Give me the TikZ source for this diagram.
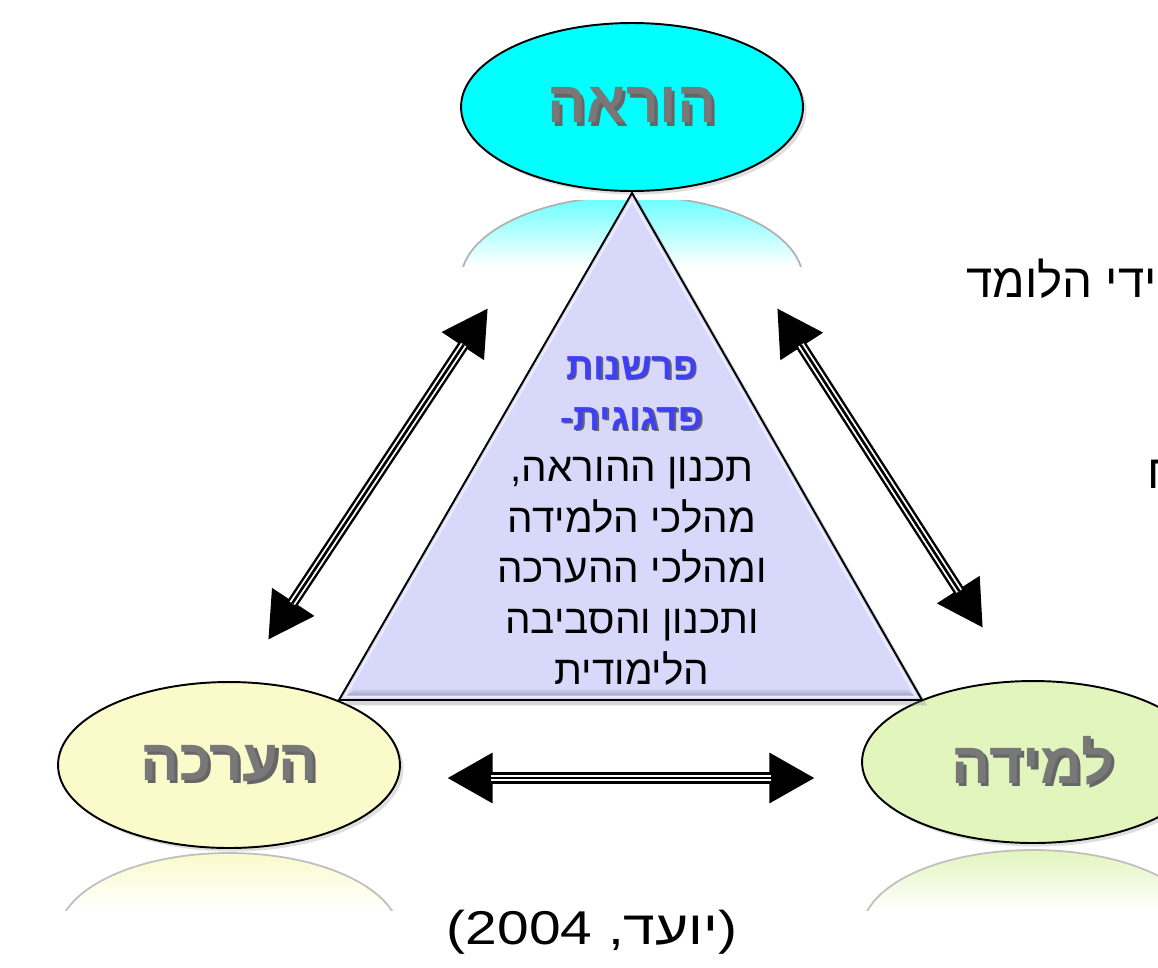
\documentclass[tikz,border=0pt]{standalone}
\usepackage{fontspec}
\setmainfont{Liberation Sans}
\newfontfamily\hebfont[Script=Hebrew]{Liberation Sans}
\newfontfamily\citefont[FakeStretch=1.2]{Liberation Sans}
\newfontfamily\citeheb[Script=Hebrew, FakeStretch=1.2]{Liberation Sans}
\TeXXeTstate=1
\usepackage{xcolor}
\usepackage{tikz}
\usetikzlibrary{positioning,arrows.meta,shapes.geometric,calc,shadows}
\definecolor{hrCyan}{HTML}{00FFFF}
\definecolor{hrCyanD}{HTML}{00B4C0}
\definecolor{hrYel}{HTML}{FAFACB}
\definecolor{hrYelD}{HTML}{D2D29E}
\definecolor{hrGrn}{HTML}{E2F5BC}
\definecolor{hrGrnD}{HTML}{B2CC86}
\definecolor{hrLav}{HTML}{D8D8FA}
\definecolor{hrBev}{HTML}{9A9AC8}
\definecolor{hrBlue}{HTML}{3F3FF5}
\definecolor{hrGray}{HTML}{787878}
\pgfdeclareradialshading{glowcyan}{\pgfpoint{0bp}{0bp}}{color(0bp)=(hrCyan); color(38bp)=(hrCyan); color(50bp)=(hrCyanD)}
\pgfdeclareradialshading{glowyel}{\pgfpoint{0bp}{0bp}}{color(0bp)=(hrYel); color(36bp)=(hrYel); color(50bp)=(hrYelD)}
\pgfdeclareradialshading{glowgrn}{\pgfpoint{0bp}{0bp}}{color(0bp)=(hrGrn); color(36bp)=(hrGrn); color(50bp)=(hrGrnD)}
\newcommand\heb[1]{\beginR #1\endR}
\newcommand\shtext[3]{\rlap{\kern#3\raisebox{-#3}{\color{black!60}#2}}{\color{#1}#2}}
\newcommand\biarrow[2]{%
  \draw[bidir] (#1) -- (#2);
  \draw[bidirgap] (#1) -- (#2);
  \draw[bidircore] (#1) -- (#2);}

\begin{document}
\begin{tikzpicture}[x=0.02cm, y=-0.02cm,
  every node/.style={font=\hebfont},
  vertex/.style={ellipse, draw=black, line width=1.1pt, shade, inner sep=0pt,
                 minimum width=6.84cm, minimum height=3.32cm,
                 drop shadow={shadow xshift=2pt, shadow yshift=-2pt, opacity=.25},
                 font=\hebfont\bfseries\fontsize{33}{36}\selectfont},
  core/.style={align=center, font=\hebfont\fontsize{23}{29}\selectfont},
  side/.style={anchor=base west, font=\hebfont\fontsize{27}{30}\selectfont},
  bidir/.style={line width=6.4pt, {Triangle[length=26pt,width=27pt]}-{Triangle[length=26pt,width=27pt]}},
  bidirgap/.style={white, line width=3.6pt, shorten <=25pt, shorten >=25pt},
  bidircore/.style={black, line width=1.5pt, shorten <=25pt, shorten >=25pt}
]
  \useasboundingbox (0,0) rectangle (1158,967);
  \clip (0,0) rectangle (1158,967);
  \fill[white] (0,0) rectangle (1158,967);

  % reflections
  \begin{scope}
    \clip (455,200) rectangle (810,266);
    \begin{scope}
      \clip (632,280) ellipse [x radius=171, y radius=84];
      \shade[top color=hrCyan!60, bottom color=white] (455,196) rectangle (810,266);
    \end{scope}
    \draw[black!30, line width=1pt] (632,280) ellipse [x radius=171, y radius=84];
  \end{scope}
  \begin{scope}
    \clip (50,845) rectangle (410,910);
    \begin{scope}
      \clip (229,936) ellipse [x radius=171, y radius=83];
      \shade[top color=hrYel, bottom color=white] (50,852) rectangle (410,910);
    \end{scope}
    \draw[black!25, line width=1pt] (229,936) ellipse [x radius=171, y radius=83];
  \end{scope}
  \begin{scope}
    \clip (855,845) rectangle (1158,910);
    \begin{scope}
      \clip (1033,931) ellipse [x radius=171, y radius=81];
      \shade[top color=hrGrn, bottom color=white] (855,849) rectangle (1210,910);
    \end{scope}
    \draw[black!25, line width=1pt] (1033,931) ellipse [x radius=171, y radius=81];
  \end{scope}

  % the three corners
  \node[vertex, shading=glowyel] (assess) at (229,765) {\shtext{hrGray}{\heb{הערכה}}{1.8pt}};
  \node[vertex, shading=glowgrn, minimum height=3.24cm] (learn) at (1033,762) {\shtext{hrGray}{\heb{למידה}}{1.8pt}};
  \node[vertex, shading=glowcyan, minimum height=3.36cm] (teach) at (632,107) {\shtext{hrGray}{\heb{הוראה}}{1.8pt}};

  % central triangle
  \coordinate (apex) at (632,193);
  \coordinate (bl) at (339,700);
  \coordinate (br) at (922,700);
  \fill[hrLav, draw=black, line width=1.1pt,
        drop shadow={shadow xshift=3pt, shadow yshift=-3pt, opacity=.3}]
    (apex) -- (br) -- (bl) -- cycle;
  \shade[top color=hrLav, bottom color=hrBev]
    ($(bl)+(18,-12)$) -- ($(br)+(-18,-12)$) -- ($(br)+(-6,-3.5)$) -- ($(bl)+(6,-3.5)$) -- cycle;
  \draw[white!60!hrLav, line width=1pt] ($(apex)+(0,7)$) -- ($(br)+(-6,-3.5)$) -- ($(bl)+(6,-3.5)$) -- cycle;

  \node[core] (pedag) at (632,521) {%
    {\fontsize{21.5}{29}\selectfont\bfseries\shtext{hrBlue}{\heb{פרשנות}}{1pt}}\\
    {\fontsize{21.5}{29}\selectfont\bfseries\shtext{hrBlue}{\heb{פדגוגית-}}{1pt}}\\
    \heb{תכנון ההוראה,}\\
    \heb{מהלכי הלמידה}\\
    \heb{ומהלכי ההערכה}\\
    \heb{ותכנון והסביבה}\\
    \heb{הלימודית}};

  % connectors
  \coordinate (ltA) at (268,640);
  \coordinate (ltB) at (488,308);
  \coordinate (rtA) at (777,308);
  \coordinate (rtB) at (983,628);
  \coordinate (bmA) at (447,778);
  \coordinate (bmB) at (815,778);
  \biarrow{ltA}{ltB}
  \biarrow{rtA}{rtB}
  \biarrow{bmA}{bmB}

  % cut text on the right and source
  \node[side] (learner) at (960,297) {\heb{ידי הלומד}};
  \node[side] (cutoff) at (1141,488) {\heb{ח}};
  \node[font=\citefont\fontsize{27}{30}\selectfont] (source) at (592,932)
    {(2004 ,{\citeheb\heb{יועד}})};
\end{tikzpicture}
\end{document}
